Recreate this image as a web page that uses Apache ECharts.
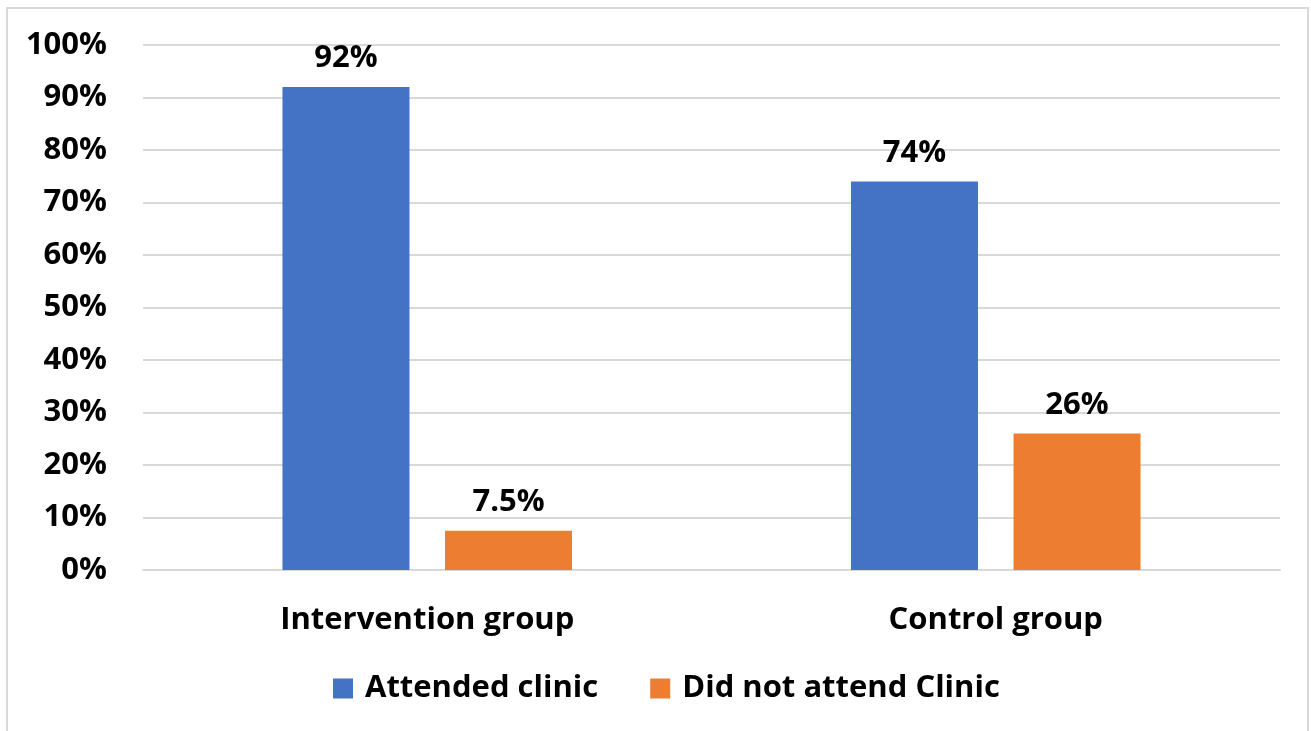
<!DOCTYPE html>
<html><head><meta charset="utf-8">
<script src="https://cdn.jsdelivr.net/npm/echarts@6/dist/echarts.min.js"></script>
<style>html,body{margin:0;padding:0;background:#fff}#c{width:1311px;height:731px}</style>
</head><body><div id="c"></div>
<script>
const categories = ['Intervention group', 'Control group'];
const attended = [92, 74];
const notAttended = [7.5, 26];
const seriesNames = ['Attended clinic', 'Did not attend Clinic'];
const yTicks = [0, 10, 20, 30, 40, 50, 60, 70, 80, 90, 100];

const FONT = 'Open Sans';
const chart = echarts.init(document.getElementById('c'));
const lbl = {show: true, position: 'top', distance: 13, formatter: p => p.value + '%', fontFamily: FONT, fontWeight: 'bold', fontSize: 31, color: '#000'};
chart.setOption({
  animation: false,
  graphic: [{type: 'rect', shape: {x: 7, y: 8, width: 1301, height: 800}, style: {fill: 'none', stroke: '#D9D9D9', lineWidth: 2}, silent: true}],
  grid: {left: 143, right: 31, top: 45, bottom: 161},
  legend: {bottom: 22, left: 328, itemWidth: 20, itemHeight: 20, itemGap: 52, icon: 'rect',
    textStyle: {fontFamily: FONT, fontWeight: 'bold', fontSize: 31, color: '#000', padding: [0, 0, 0, 7]}},
  xAxis: {type: 'category', data: categories, axisTick: {show: false},
    axisLine: {lineStyle: {color: '#D9D9D9', width: 2}},
    axisLabel: {margin: 35, fontFamily: FONT, fontWeight: 'bold', fontSize: 31, color: '#000'}},
  yAxis: {type: 'value', min: yTicks[0], max: yTicks[yTicks.length - 1], interval: 10,
    axisLine: {show: false}, axisTick: {show: false},
    splitLine: {lineStyle: {color: '#D9D9D9', width: 2}},
    axisLabel: {margin: 36, formatter: v => v + '%', fontFamily: FONT, fontWeight: 'bold', fontSize: 31, color: '#000'}},
  series: [
    {name: seriesNames[0], type: 'bar', data: attended, barWidth: 127, barGap: '28%', itemStyle: {color: '#4472C4'}, label: lbl},
    {name: seriesNames[1], type: 'bar', data: notAttended, barWidth: 127, itemStyle: {color: '#ED7D31'}, label: lbl}
  ]
});
</script></body></html>
